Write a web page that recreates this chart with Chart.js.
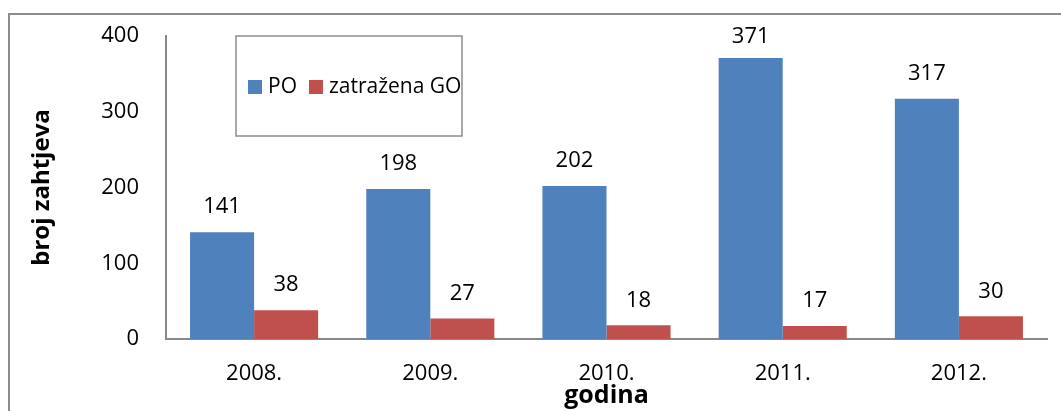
<!DOCTYPE html>
<html>
<head>
<meta charset="utf-8">
<script src="https://cdn.jsdelivr.net/npm/chart.js@4"></script>
<style>
  body { margin: 0; background: #fff; overflow: hidden; }
  #frame { position: absolute; left: 8px; top: 13px; width: 1200px; height: 600px; border: 2px solid #8c8c8c; }
  #wrap { position: absolute; left: 0; top: 0; width: 1061px; height: 411px; }
</style>
</head>
<body>
<div id="frame"></div>
<div id="wrap"><canvas id="chart" width="1061" height="411"></canvas></div>
<script>
// data
var years = ['2008.', '2009.', '2010.', '2011.', '2012.'];
var poValues = [141, 198, 202, 371, 317];
var goValues = [38, 27, 18, 17, 30];
var yTicks = [0, 100, 200, 300, 400];

var FONT = '"Open Sans", "DejaVu Sans", sans-serif';

// value labels above each bar (kept inside the plot top, like excel does)
var valueLabels = {
  id: 'valueLabels',
  afterDatasetsDraw: function (chart) {
    var ctx = chart.ctx;
    ctx.save();
    ctx.font = '22px ' + FONT;
    ctx.fillStyle = '#000';
    ctx.textAlign = 'center';
    ctx.textBaseline = 'middle';
    chart.data.datasets.forEach(function (ds, i) {
      chart.getDatasetMeta(i).data.forEach(function (bar, j) {
        var y = Math.max(bar.y - 25, chart.chartArea.top + 1);
        ctx.fillText(ds.data[j], bar.x, y);
      });
    });
    ctx.restore();
  }
};

// boxed legend sitting inside the plot area
var boxLegend = {
  id: 'boxLegend',
  afterDraw: function (chart) {
    var ctx = chart.ctx;
    var a = chart.chartArea;
    var x0 = a.left + 70, y0 = 36, w = 226, h = 100;
    ctx.save();
    ctx.strokeStyle = '#8c8c8c';
    ctx.lineWidth = 1.5;
    ctx.strokeRect(x0, y0, w, h);
    ctx.font = '21px ' + FONT;
    ctx.textBaseline = 'middle';
    var x = x0 + 12, cy = y0 + 51;
    chart.data.datasets.forEach(function (ds) {
      ctx.fillStyle = ds.backgroundColor;
      ctx.fillRect(x, cy - 7, 14, 14);
      ctx.fillStyle = '#000';
      ctx.fillText(ds.label, x + 20, cy);
      x += 20 + ctx.measureText(ds.label).width + 12;
    });
    ctx.restore();
  }
};

new Chart(document.getElementById('chart'), {
  type: 'bar',
  data: {
    labels: years,
    datasets: [
      { label: 'PO', data: poValues, backgroundColor: '#4F81BD' },
      { label: 'zatražena GO', data: goValues, backgroundColor: '#C0504D' }
    ]
  },
  options: {
    responsive: false,
    animation: false,
    layout: { padding: { top: 36, right: 14, left: 0, bottom: 0 } },
    datasets: { bar: { barPercentage: 1, categoryPercentage: 0.727 } },
    plugins: { legend: { display: false }, tooltip: { enabled: false } },
    scales: {
      x: {
        grid: { display: false, drawTicks: false },
        border: { display: true, color: '#888', width: 2 },
        ticks: { color: '#000', font: { family: FONT, size: 22 }, padding: 22 },
        title: { display: true, text: 'godina', color: '#000', font: { family: FONT, size: 25, weight: 'bold' }, padding: { top: 0, bottom: 0 } },
        afterFit: function (s) { s.height = 72; }
      },
      y: {
        min: 0,
        max: 400,
        afterBuildTicks: function (s) { s.ticks = yTicks.map(function (v) { return { value: v }; }); },
        grid: { display: false, drawTicks: false },
        border: { display: true, color: '#888', width: 2 },
        ticks: { color: '#000', font: { family: FONT, size: 22 }, padding: 27 },
        title: { display: true, text: 'broj zahtjeva', color: '#000', font: { family: FONT, size: 24, weight: 'bold' }, padding: { top: 28, bottom: 0 } },
        afterFit: function (s) { s.width = 166; s.paddingTop = 0; s.paddingBottom = 0; }
      }
    }
  },
  plugins: [valueLabels, boxLegend]
});
</script>
</body>
</html>
